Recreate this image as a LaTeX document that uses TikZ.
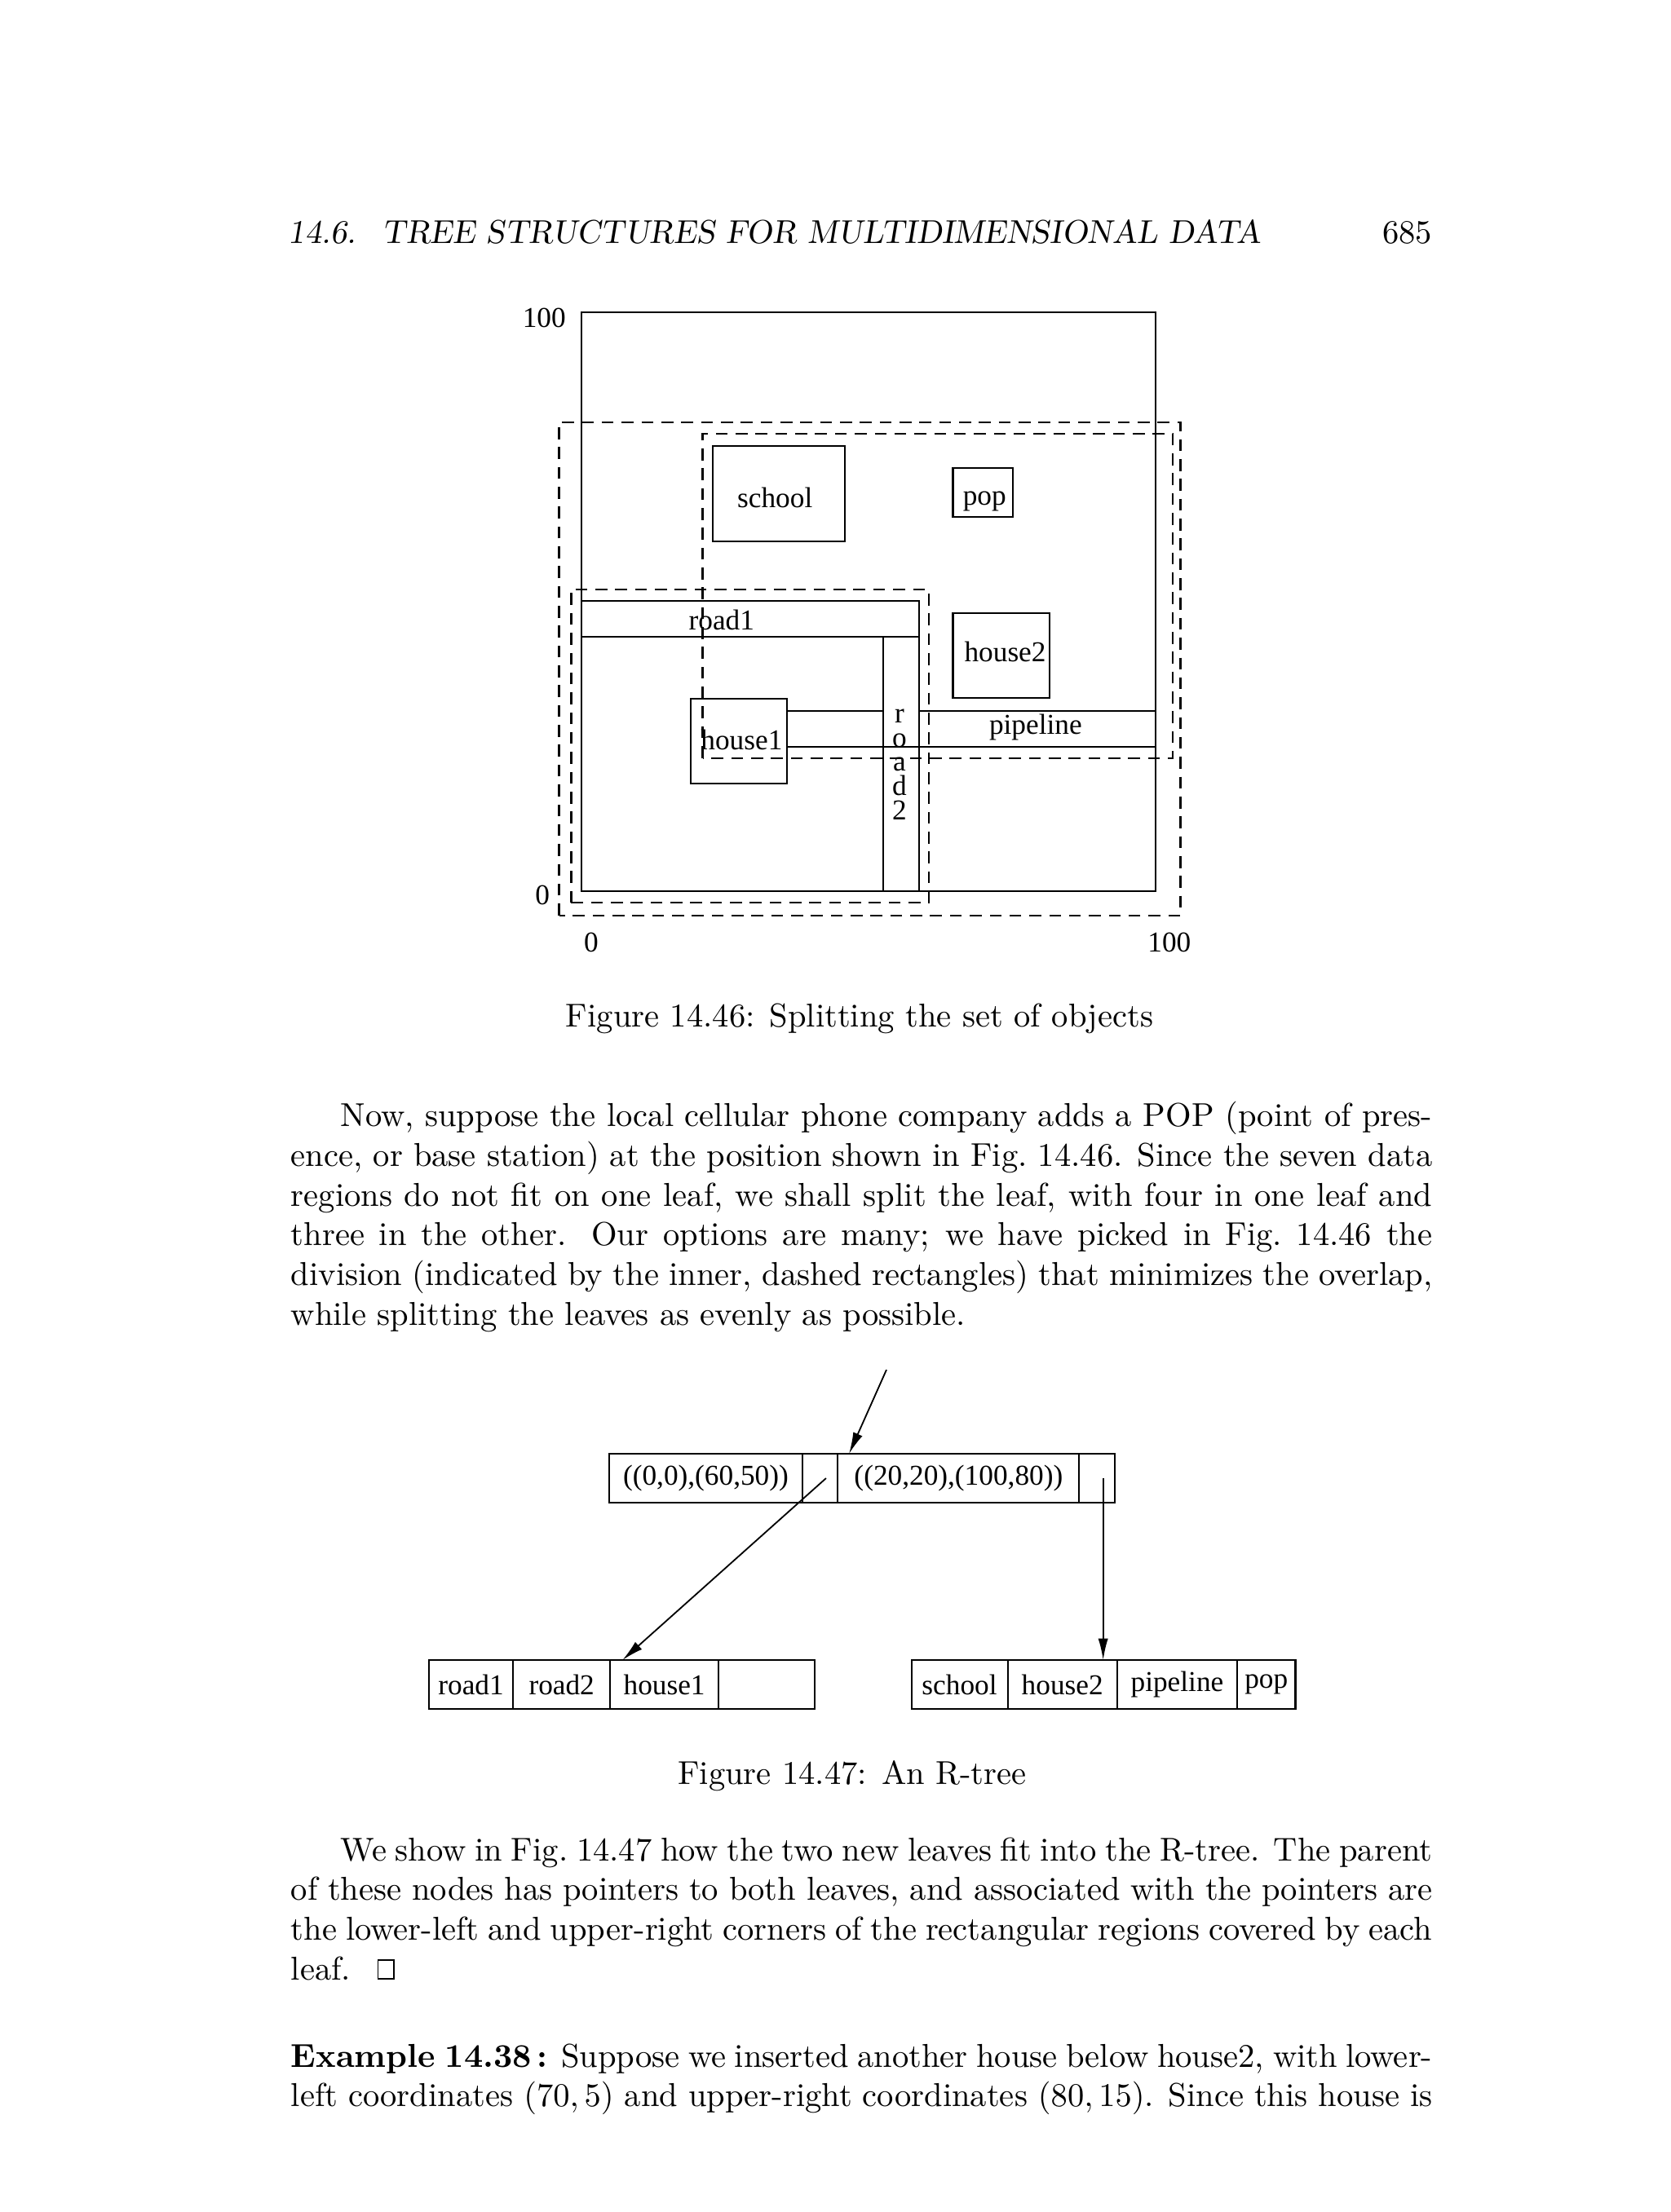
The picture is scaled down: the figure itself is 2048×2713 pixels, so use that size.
\documentclass[tikz,border=0pt]{standalone}
\usepackage{fontspec}
\usepackage{tikz}
\usetikzlibrary{arrows.meta,positioning}
\newfontfamily\figrm{Liberation Serif}
\newcommand\exbox{\hbox{\vrule\vbox{\hrule\hbox to 4.4pt{\vrule height 5.4pt width 0pt\hfil}\hrule}\vrule}}

\begin{document}
\begin{tikzpicture}[x=0.2465pt,y=-0.2465pt,
  region/.style={line width=0.5pt},
  split/.style={line width=0.6pt,dash pattern=on 3.6pt off 2.4pt},
  lbl/.style={font=\figrm\fontsize{8.7}{10}\selectfont,inner sep=0pt},
  vlbl/.style={lbl,align=center,font=\figrm\fontsize{8.7}{7.3}\selectfont},
  cell/.style={draw,line width=0.5pt,minimum height=14.8pt,inner sep=0pt,outer sep=0pt,
    font=\figrm\fontsize{8.7}{10}\selectfont},
  ptr/.style={-{Latex[length=6.5pt,width=3pt]},line width=0.45pt},
  body/.style={anchor=base west,inner sep=0pt}
]
  \useasboundingbox (0,0) rectangle (2048,2713);

  % running head
  \node[body] (head) at (353,299) {\slshape 14.6. \ TREE STRUCTURES FOR MULTIDIMENSIONAL DATA};
  \node[anchor=base east,inner sep=0pt] (folio) at (1757,299) {685};

  % Fig. 14.46, in data units
  \begin{scope}[shift={(713,1093)},x=1.7354pt,y=1.750pt]
    \draw[region] (0,0) rectangle (100,100);
    \draw[split] (-3.9,-4.2) rectangle (104.3,81);
    \draw[split] (21.1,23) rectangle (103,79);
    \draw[split] (-1.8,-2) rectangle (60.5,52.1);
    \draw[region] (22.9,60.4) rectangle (45.9,76.9);
    \draw[region] (64.7,64.6) rectangle (75.2,73.1);
    \draw[region] (0,43.9) rectangle (58.8,50.2);
    \draw[region] (52.5,0) rectangle (58.8,43.9);
    \draw[region] (64.7,33.4) rectangle (81.5,48.1);
    \draw[region] (19,18.6) rectangle (35.8,33.2);
    \draw[region] (52.5,31.1) -- (35.8,31.1) -- (35.8,24.9) -- (100,24.9) -- (100,31.1) -- (58.8,31.1);
    \node[lbl] (school) at (33.7,68) {school};
    \node[lbl] (pop) at (70.2,67.4) {pop};
    \node[lbl] (road1) at (24.4,46.9) {road1};
    \node[vlbl] (road2) at (55.4,21.9) {r\\o\\a\\d\\2};
    \node[lbl] (house2) at (73.8,41.3) {house2};
    \node[lbl] (house1) at (27.9,26.2) {house1};
    \node[lbl] (pipeline) at (79.1,28.3) {pipeline};
    \node[lbl] (ytop) at (-6.5,99) {100};
    \node[lbl] (yzero) at (-6.8,-0.7) {0};
    \node[lbl] (xzero) at (1.7,-8.9) {0};
    \node[lbl] (xtop) at (102.4,-8.9) {100};
  \end{scope}
  \node[anchor=base,inner sep=0pt] (cap1) at (1054,1259) {Figure 14.46: Splitting the set of objects};

  \node[body] (par1) at (356,1381.7) {\parbox[t]{345pt}{\hspace*{15pt}Now, suppose the local
    cellular phone company adds a POP (point of pres-\linebreak ence, or base station) at the
    position shown in Fig.~14.46. Since the seven data\linebreak regions do not fit on one
    leaf, we shall split the leaf, with four in one leaf and\linebreak three in the other.
    Our options are many; we have picked in Fig.~14.46 the\linebreak division (indicated by
    the inner, dashed rectangles) that minimizes the overlap,\linebreak while splitting the
    leaves as evenly as possible.}};

  % Fig. 14.47: parent and two leaves
  \node[cell,minimum width=58.4pt,anchor=west] (bb1) at (747,1813) {((0,0),(60,50))};
  \node[cell,minimum width=10.7pt,right=0pt of bb1] (pt1) {};
  \node[cell,minimum width=73pt,right=0pt of pt1] (bb2) {((20,20),(100,80))};
  \node[cell,minimum width=10.8pt,right=0pt of bb2] (pt2) {};

  \node[cell,minimum width=25.4pt,anchor=west] (ra1) at (526,2066) {road1};
  \node[cell,minimum width=29.4pt,right=0pt of ra1] (ra2) {road2};
  \node[cell,minimum width=32.7pt,right=0pt of ra2] (hs1) {house1};
  \node[cell,minimum width=29.1pt,right=0pt of hs1] (emp) {};

  \node[cell,minimum width=29.1pt,anchor=west] (sch) at (1117.5,2066) {school};
  \node[cell,minimum width=33.1pt,right=0pt of sch] (hs2) {house2};
  \node[cell,minimum width=36.3pt,right=0pt of hs2] (pipe) {pipeline};
  \node[cell,minimum width=17.6pt,right=0pt of pipe] (pop2) {pop};

  \coordinate (root) at (1087,1680);
  \draw[ptr] (root) -- ([xshift=3.4pt]bb2.north west);
  \draw[ptr] ([xshift=1.8pt]pt1.center) -- ([xshift=3.7pt]hs1.north west);
  \draw[ptr] ([xshift=1.8pt]pt2.center) -- ([xshift=1.8pt]pt2.center |- hs2.north);
  \node[anchor=base,inner sep=0pt] (cap2) at (1045,2188) {Figure 14.47: An R-tree};

  \node[body] (par2) at (356,2282) {\parbox[t]{345pt}{\hspace*{15pt}We show in Fig.~14.47 how
    the two new leaves fit into the R-tree. The parent\linebreak of these nodes has pointers
    to both leaves, and associated with the pointers are\linebreak the lower-left and
    upper-right corners of the rectangular regions covered by each\linebreak
    leaf.\hspace{8pt}\exbox}};

  \node[body] (par3) at (356,2535) {\parbox[t]{345pt}{\parfillskip=0pt
    {\bfseries Example 14.38\,:} Suppose we inserted another house below house2, with
    lower-\linebreak left coordinates $(70,5)$ and upper-right coordinates $(80,15)$. Since
    this house is}};
\end{tikzpicture}
\end{document}
